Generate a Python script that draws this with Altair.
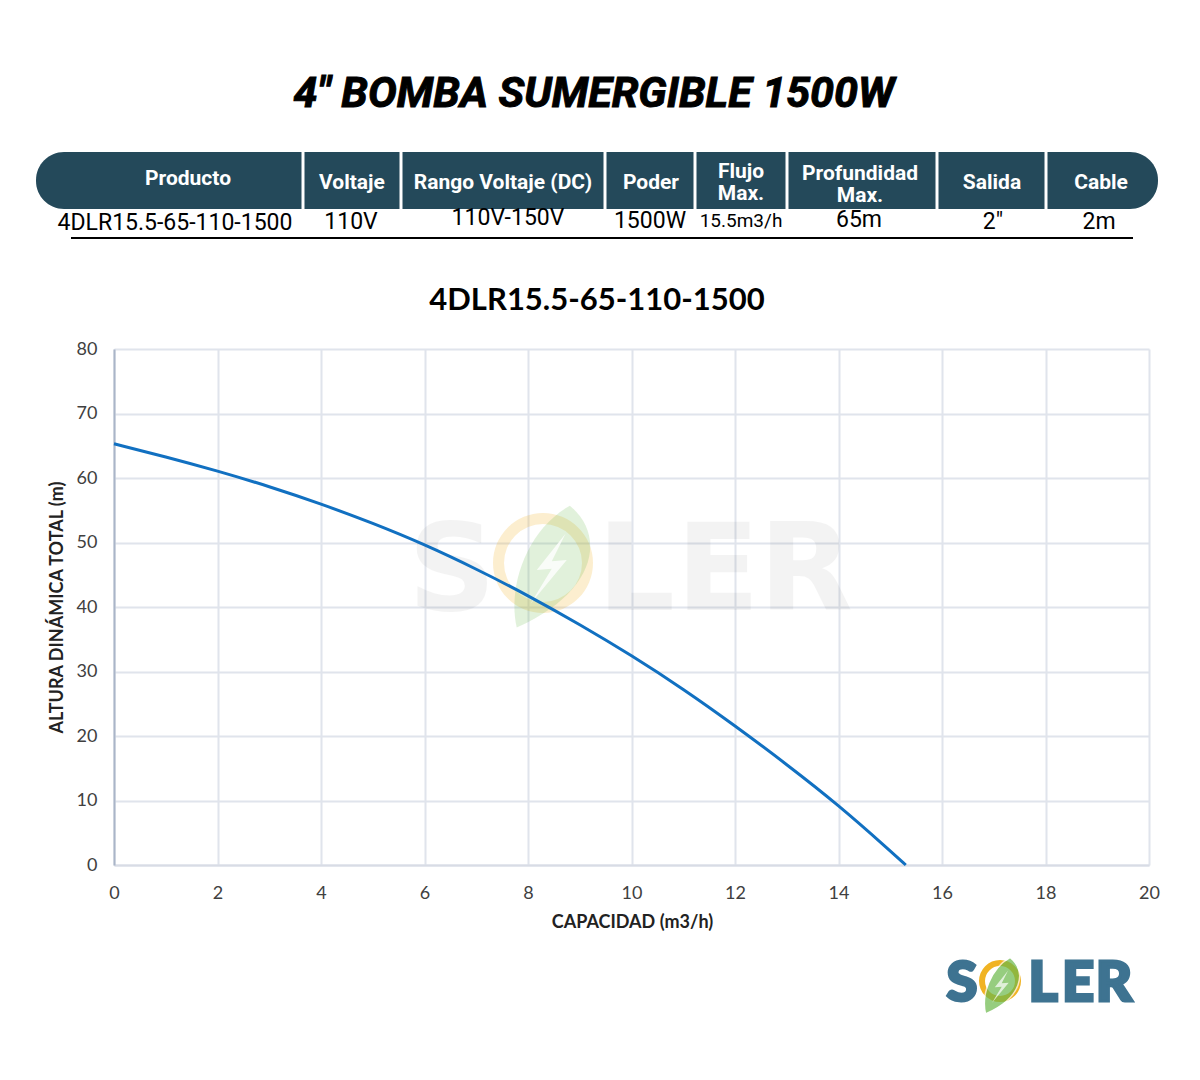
import altair as alt
import pandas as pd

# ---- data ----
flow = [0, 1, 2, 3, 4, 5, 6, 7, 8, 9, 10, 11, 12, 13, 14, 15, 15.3]
head = [65.3, 63.3, 61.1, 58.7, 56.0, 53.0, 49.7, 45.9, 41.8, 37.3, 32.5, 27.3, 21.6, 15.6, 9.3, 2.2, 0.0]

headers = ["Producto", "Voltaje", "Rango Voltaje (DC)", "Poder", ["Flujo", "Max."],
           ["Profundidad", "Max."], "Salida", "Cable"]
values = ["4DLR15.5-65-110-1500", "110V", "110V-150V", "1500W", "15.5m3/h", "65m", "2\"", "2m"]

main_title = "4\" BOMBA SUMERGIBLE 1500W"
chart_title = "4DLR15.5-65-110-1500"
x_title = "CAPACIDAD (m3/h)"
y_title = "ALTURA DINÁMICA TOTAL (m)"
x_ticks = list(range(0, 21, 2))
y_ticks = list(range(0, 81, 10))

# ---- layout (page pixels) ----
OX, OY = 114, 349          # plot origin on the page
W, H = 1035, 516

def px(x):
    return x - OX

def py(y):
    return y - OY

dummy = pd.DataFrame({"k": [0]})

def txt(s, x, y, size, weight="normal", color="black", font="Roboto",
        style="normal", baseline="middle", opacity=1.0, stroke=None, strokeWidth=0):
    kw = dict(text=s, fontSize=size, fontWeight=weight, color=color, font=font,
              fontStyle=style, align="center", baseline=baseline, opacity=opacity)
    if stroke:
        kw["stroke"] = stroke
        kw["strokeWidth"] = strokeWidth
    return alt.Chart(dummy).mark_text(**kw).encode(x=alt.value(px(x)), y=alt.value(py(y)))

layers = []

# ---- watermark (behind) ----
wm_color = "#000000"
for ch, cx in zip(["S", "L", "E", "R"], [452, 636, 718, 806]):
    layers.append(txt(ch, cx, 610, 122, weight="bold", color=wm_color, font="DejaVu Sans",
                      baseline="alphabetic", opacity=0.045))
layers.append(alt.Chart(dummy).mark_arc(radius=50, radius2=39, theta=0, theta2=6.2832,
                                        color="#f0b323", opacity=0.22)
              .encode(x=alt.value(px(543)), y=alt.value(py(563))))
leaf_path = "M0.35,-0.95 C0.95,-0.45 0.75,0.45 -0.5,1 C-0.65,0.35 -0.35,-0.55 0.35,-0.95 Z"
bolt_path = "M0.28,-0.5 L-0.18,0.08 L0.06,0.06 L-0.28,0.62 L0.3,-0.08 L0.06,-0.06 Z"
layers.append(alt.Chart(dummy).mark_point(shape=leaf_path, filled=True, size=125 * 125,
                                          color="#6bb84a", opacity=0.2, strokeWidth=0)
              .encode(x=alt.value(px(548)), y=alt.value(py(565))))
layers.append(alt.Chart(dummy).mark_point(shape=bolt_path, filled=True, size=125 * 125,
                                          color="white", opacity=0.8, strokeWidth=0)
              .encode(x=alt.value(px(548)), y=alt.value(py(565))))

# ---- curve ----
df = pd.DataFrame({"flow": flow, "head": head})
line = alt.Chart(df).mark_line(color="#1170c1", strokeWidth=3, interpolate="basis").encode(
    x=alt.X("flow:Q", scale=alt.Scale(domain=[0, 20], nice=False),
            axis=alt.Axis(values=x_ticks, title=x_title, grid=True, tickSize=0, labelPadding=19,
                          labelFlush=False,
                          domainColor="#d8dce5", domainWidth=2, gridColor="#e0e4ec", gridWidth=2,
                          labelFont="Lato", labelFontSize=18, labelColor="#404040",
                          titleFont="Lato", titleFontSize=18, titleFontWeight="bold",
                          titleColor="#222222", titleX=518, titleY=57, titleBaseline="middle")),
    y=alt.Y("head:Q", scale=alt.Scale(domain=[0, 80], nice=False),
            axis=alt.Axis(values=y_ticks, title=y_title, grid=True, tickSize=0, labelPadding=17,
                          labelFlush=False,
                          domainColor="#aab5c8", domainWidth=2, gridColor="#e0e4ec", gridWidth=2,
                          labelFont="Lato", labelFontSize=18, labelColor="#404040",
                          titleFont="Lato", titleFontSize=18, titleFontWeight="bold",
                          titleColor="#222222", titleX=-57, titleY=258, titleAngle=270,
                          titleAlign="center", titleBaseline="middle")),
)
layers.append(line)

# ---- titles ----
layers.append(txt(main_title, 594, 107, 43, weight="bold", style="italic",
                  font="Roboto", baseline="alphabetic",
                  stroke="black", strokeWidth=1))
layers.append(txt(chart_title, 597, 301, 31, weight="bold", font="Lato"))

# ---- spec table ----
layers.append(alt.Chart(dummy).mark_rect(cornerRadius=28, color="#24495a").encode(
    x=alt.value(px(36)), x2=alt.value(px(1158)), y=alt.value(py(152)), y2=alt.value(py(209))))
for sx in [303, 401, 605, 695, 787, 937, 1046]:
    layers.append(alt.Chart(dummy).mark_rule(color="white", strokeWidth=3).encode(
        x=alt.value(px(sx)), y=alt.value(py(152)), y2=alt.value(py(209))))

head_x = [188, 352, 503, 651, 741, 860, 992, 1101]
head_y = [179, 183, 183, 183, 172, 174, 183, 183]
for h, hx, hy in zip(headers, head_x, head_y):
    lines = h if isinstance(h, list) else [h]
    for i, part in enumerate(lines):
        layers.append(txt(part, hx, hy + 22 * i, 21, weight="bold", color="white", font="Roboto"))

val_x = [175, 351, 508, 650, 741, 859, 993, 1099]
val_y = [223, 222, 218, 221, 221, 220, 222, 222]
val_s = [23, 23, 23, 23, 19, 23, 23, 23]
for v, vx, vy, vs in zip(values, val_x, val_y, val_s):
    layers.append(txt(v, vx, vy, vs, font="Roboto"))

layers.append(alt.Chart(dummy).mark_rule(color="black", strokeWidth=2).encode(
    x=alt.value(px(71)), x2=alt.value(px(1133)), y=alt.value(py(238))))

# ---- logo bottom right ----
logo_color = "#3e7391"
for ch, cx in zip(["S", "L", "E", "R"], [962, 1043, 1078, 1114]):
    layers.append(txt(ch, cx, 1001, 56, weight=900, color=logo_color, font="Lato",
                      baseline="alphabetic", stroke=logo_color, strokeWidth=3))
layers.append(alt.Chart(dummy).mark_arc(radius=21, radius2=15, theta=0, theta2=6.2832,
                                        color="#f0b323")
              .encode(x=alt.value(px(1000)), y=alt.value(py(981))))
layers.append(alt.Chart(dummy).mark_point(shape=leaf_path, filled=True, size=58 * 58,
                                          color="#6bb84a", stroke="white", strokeWidth=1.5)
              .encode(x=alt.value(px(1000)), y=alt.value(py(985))))
layers.append(alt.Chart(dummy).mark_point(shape=bolt_path, filled=True, size=58 * 58,
                                          color="white", strokeWidth=0)
              .encode(x=alt.value(px(1000)), y=alt.value(py(985))))

chart = alt.layer(*layers).properties(
    width=W, height=H,
    autosize=alt.AutoSizeParams(type="none"),
    padding={"left": 106, "top": 341, "right": 43, "bottom": 207},
).configure_view(stroke=None)

chart.save("out.html", embed_options={"renderer": "svg", "actions": False})
